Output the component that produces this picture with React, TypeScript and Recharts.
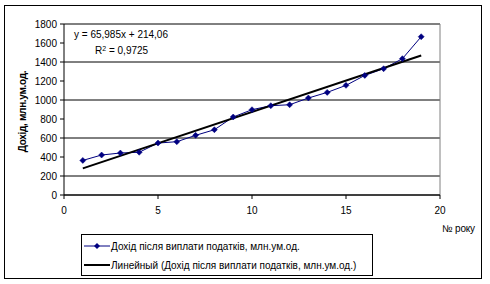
import React from 'react';
import { LineChart, Line, XAxis, YAxis, CartesianGrid, ReferenceLine } from 'recharts';

const years = [1, 2, 3, 4, 5, 6, 7, 8, 9, 10, 11, 12, 13, 14, 15, 16, 17, 18, 19];
const income = [364, 421, 442, 450, 547, 561, 628, 687, 821, 898, 940, 950, 1021, 1080, 1154, 1259, 1329, 1435, 1666];
const trendYears = [1, 19];
const trendValues = [280, 1468];
const xTicks = [0, 5, 10, 15, 20];
const yTicks = [0, 200, 400, 600, 800, 1000, 1200, 1400, 1600, 1800];

const seriesName = 'Дохід після виплати податків, млн.ум.од.';
const trendName = 'Линейный (Дохід після виплати податків, млн.ум.од.)';
const yLabel = 'Дохід, млн.ум.од.';
const xLabel = '№ року';
const equation = 'y = 65,985x + 214,06';
const rSquared = '0,9725';

const incomeData = years.map((x, i) => ({ x, y: income[i] }));
const trendData = trendYears.map((x, i) => ({ x, y: trendValues[i] }));

const FONT = '"Liberation Sans", Arial, sans-serif';
const NAVY = '#000080';

const Diamond = (props: any) => {
  const { cx, cy } = props;
  if (cx == null || cy == null) return null;
  const r = 3;
  return (
    <path
      d={`M${cx},${cy - r} L${cx + r},${cy} L${cx},${cy + r} L${cx - r},${cy} Z`}
      fill={NAVY}
      stroke={NAVY}
      strokeWidth={0.5}
    />
  );
};

const YLabel = (p: any) => {
  const vb = p.viewBox || {};
  const x = vb.x + 16;
  const y = vb.y + vb.height / 2 + 2;
  return (
    <text
      x={x}
      y={y}
      transform={`rotate(-90, ${x}, ${y})`}
      textAnchor="middle"
      dominantBaseline="central"
      fontFamily={FONT}
      fontSize={10}
      fontWeight="bold"
      letterSpacing={-0.3}
      fill="#000"
    >
      {yLabel}
    </text>
  );
};

export default function App() {
  return (
    <div
      style={{
        position: 'absolute',
        left: 0,
        top: 0,
        width: 490,
        height: 284,
        background: '#fff',
        fontFamily: FONT,
        overflow: 'hidden',
      }}
    >
      <div
        style={{
          position: 'absolute',
          left: 4,
          top: 5,
          width: 476,
          height: 272,
          border: '1px solid #000',
        }}
      />
      <div style={{ position: 'absolute', left: 0, top: 0 }}>
        <LineChart width={490} height={284} margin={{ top: 24, right: 50, left: 6, bottom: 69 }}>
          <CartesianGrid vertical={false} stroke="#000" strokeWidth={1} />
          <ReferenceLine y={1800} stroke="#808080" strokeWidth={1} />
          <ReferenceLine x={20} stroke="#808080" strokeWidth={1} />
          <XAxis
            type="number"
            dataKey="x"
            domain={[0, 20]}
            ticks={xTicks}
            allowDataOverflow
            height={20}
            tickSize={4}
            tickMargin={8}
            stroke="#000"
            tick={{ fill: '#000', fontSize: 10, fontFamily: FONT }}
          />
          <YAxis
            type="number"
            dataKey="y"
            domain={[0, 1800]}
            ticks={yTicks}
            width={58}
            tickSize={4}
            tickMargin={3}
            stroke="#000"
            tick={{ fill: '#000', fontSize: 10, fontFamily: FONT }}
            label={{ content: YLabel }}
          />
          <Line
            data={incomeData}
            dataKey="y"
            type="linear"
            stroke={NAVY}
            strokeWidth={1}
            dot={<Diamond />}
            activeDot={false}
            isAnimationActive={false}
            name={seriesName}
          />
          <Line
            data={trendData}
            dataKey="y"
            type="linear"
            stroke="#000"
            strokeWidth={2}
            dot={false}
            activeDot={false}
            isAnimationActive={false}
            name={trendName}
          />
        </LineChart>
      </div>
      <div style={{ position: 'absolute', left: 74, top: 29, fontSize: 10, lineHeight: '12px', color: '#000', whiteSpace: 'nowrap' }}>
        {equation}
      </div>
      <div style={{ position: 'absolute', left: 95, top: 45, fontSize: 10, lineHeight: '12px', color: '#000', whiteSpace: 'nowrap' }}>
        R<sup style={{ fontSize: 7, verticalAlign: 'top', lineHeight: '7px' }}>2</sup> = {rSquared}
      </div>
      <div style={{ position: 'absolute', left: 442, top: 223, fontSize: 10, lineHeight: '12px', color: '#000', whiteSpace: 'nowrap', letterSpacing: -0.2 }}>
        {xLabel}
      </div>
      <div
        style={{
          position: 'absolute',
          left: 81,
          top: 234,
          width: 290,
          height: 40,
          border: '1px solid #000',
          fontSize: 10,
          color: '#000',
        }}
      >
        <div style={{ position: 'absolute', left: 2, top: 4, height: 14, display: 'flex', alignItems: 'center', whiteSpace: 'nowrap' }}>
          <svg width={26} height={14} style={{ marginRight: 1 }}>
            <line x1={0} y1={7} x2={26} y2={7} stroke={NAVY} strokeWidth={1} />
            <path d="M13,4 L16,7 L13,10 L10,7 Z" fill={NAVY} />
          </svg>
          <span>{seriesName}</span>
        </div>
        <div style={{ position: 'absolute', left: 2, top: 23, height: 14, display: 'flex', alignItems: 'center', whiteSpace: 'nowrap' }}>
          <svg width={26} height={14} style={{ marginRight: 1 }}>
            <line x1={0} y1={7} x2={26} y2={7} stroke="#000" strokeWidth={2} />
          </svg>
          <span>{trendName}</span>
        </div>
      </div>
    </div>
  );
}
